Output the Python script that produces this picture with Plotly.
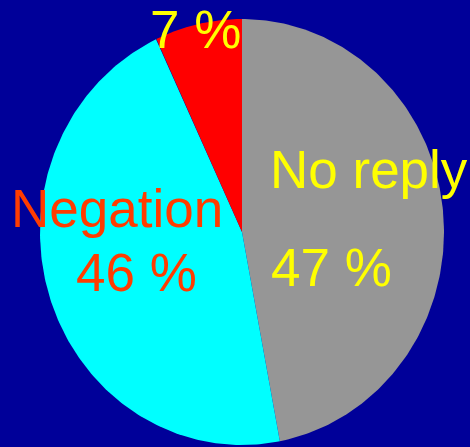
import numpy as np
import plotly.graph_objects as go

# Survey answers, clockwise from 12 o'clock
labels = ["No reply", "Negation", "Other"]
shares = [47, 46, 7]
colors = ["#969696", "#00FFFF", "#FF0000"]

W, H = 470, 447
cx, cy, rx, ry = 242, 232, 202, 213  # pie ellipse in pixel space

fig = go.Figure()

start = 0.0
total = sum(shares)
for lab, val, col in zip(labels, shares, colors):
    sweep = 360.0 * val / total
    t = np.radians(np.linspace(start, start + sweep, 200))
    xs = np.concatenate([[cx], cx + rx * np.sin(t), [cx]])
    ys = np.concatenate([[cy], cy - ry * np.cos(t), [cy]])
    fig.add_trace(go.Scatter(x=xs, y=ys, fill="toself", fillcolor=col,
                             mode="lines", line=dict(width=0), name=lab,
                             hoverinfo="name"))
    start += sweep

font = "Liberation Sans, Arial, sans-serif"
yellow = "#FFFF00"
orange = "#FF3C00"

def label(text, x, y, color, xanchor="center"):
    fig.add_annotation(x=x, y=y, text=text, showarrow=False, xanchor=xanchor,
                       yanchor="middle", font=dict(family=font, size=53, color=color))

label(f"{shares[2]} %", 195, 29, yellow)
label(labels[0], 268, 169, yellow, xanchor="left")
label(f"{shares[0]} %", 269, 267, yellow, xanchor="left")
label(labels[1], 116.5, 208, orange)
label(f"{shares[1]} %", 136.5, 272, orange)

fig.update_layout(
    width=W, height=H, margin=dict(l=0, r=0, t=0, b=0),
    paper_bgcolor="#000099", plot_bgcolor="#000099", showlegend=False,
    xaxis=dict(range=[0, W], visible=False, fixedrange=True),
    yaxis=dict(range=[H, 0], visible=False, fixedrange=True),
)

fig.write_html("out.html")
